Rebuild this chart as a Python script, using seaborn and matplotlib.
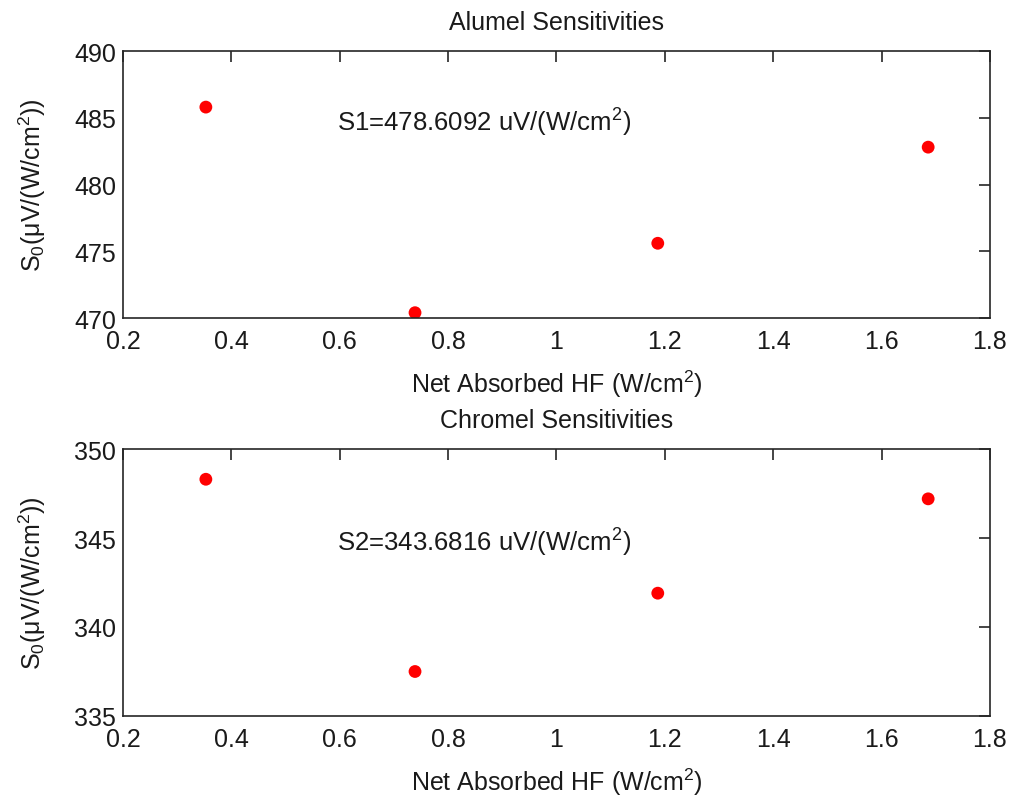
import matplotlib
matplotlib.use("Agg")
import matplotlib.pyplot as plt
import seaborn as sns
import pandas as pd

# Data
heat_flux = [0.353, 0.739, 1.187, 1.686]
alumel_s0 = [485.8, 470.4, 475.6, 482.8]
chromel_s0 = [348.3, 337.5, 341.9, 347.2]
s1_text = "S1=478.6092 uV/(W/cm$^{2}$)"
s2_text = "S2=343.6816 uV/(W/cm$^{2}$)"
titles = ["Alumel Sensitivities", "Chromel Sensitivities"]
xlabel = "Net Absorbed HF (W/cm$^{2}$)"
ylabel = "S$_{0}$(μV/(W/cm$^{2}$))"
xticks = [0.2, 0.4, 0.6, 0.8, 1.0, 1.2, 1.4, 1.6, 1.8]
xtick_labels = ["0.2", "0.4", "0.6", "0.8", "1", "1.2", "1.4", "1.6", "1.8"]
yticks_top = [470, 475, 480, 485, 490]
yticks_bot = [335, 340, 345, 350]

sns.set_style("white")
plt.rcParams['font.family'] = ['Liberation Sans', 'DejaVu Sans']
plt.rcParams['mathtext.fontset'] = 'custom'
plt.rcParams['mathtext.rm'] = 'Liberation Sans'
plt.rcParams['mathtext.it'] = 'Liberation Sans:italic'
plt.rcParams['mathtext.bf'] = 'Liberation Sans:bold'

fig = plt.figure(figsize=(10.12, 8.03), dpi=100)
ax1 = fig.add_axes([0.1215, 0.6027, 0.8567, 0.3325])
ax2 = fig.add_axes([0.1215, 0.1071, 0.8567, 0.3325])

df1 = pd.DataFrame({"x": heat_flux, "y": alumel_s0})
df2 = pd.DataFrame({"x": heat_flux, "y": chromel_s0})

specs = [
    (ax1, df1, (470, 490), yticks_top, s1_text, 484.7),
    (ax2, df2, (335, 350), yticks_bot, s2_text, 344.8),
]
fs = 18
txtcol = "#1a1a1a"
for i, (ax, df, ylim, yt, txt, ty) in enumerate(specs):
    sns.scatterplot(data=df, x="x", y="y", ax=ax, color="#ff0000",
                    s=85, edgecolor="none", linewidth=0)
    ax.set_xlim(0.2, 1.8)
    ax.set_ylim(*ylim)
    ax.set_xticks(xticks)
    ax.set_xticklabels(xtick_labels)
    ax.set_yticks(yt)
    ax.tick_params(direction="in", length=8, width=1.2, top=True, right=True,
                   labelsize=fs, colors="#262626", labelcolor=txtcol)
    ax.tick_params(axis="x", pad=8)
    ax.tick_params(axis="y", pad=5)
    for sp in ax.spines.values():
        sp.set_visible(True)
        sp.set_color("#262626")
        sp.set_linewidth(1.2)
    ax.set_xlabel(xlabel, fontsize=fs, labelpad=10.5, color=txtcol)
    ax.set_ylabel(ylabel, fontsize=fs, labelpad=19, color=txtcol)
    ax.set_title(titles[i], fontsize=fs, pad=16, color=txtcol)
    ax.text(0.595, ty, txt, fontsize=18.5, ha="left", va="center", color=txtcol)

fig.savefig("out.png", dpi=100, facecolor="white")
